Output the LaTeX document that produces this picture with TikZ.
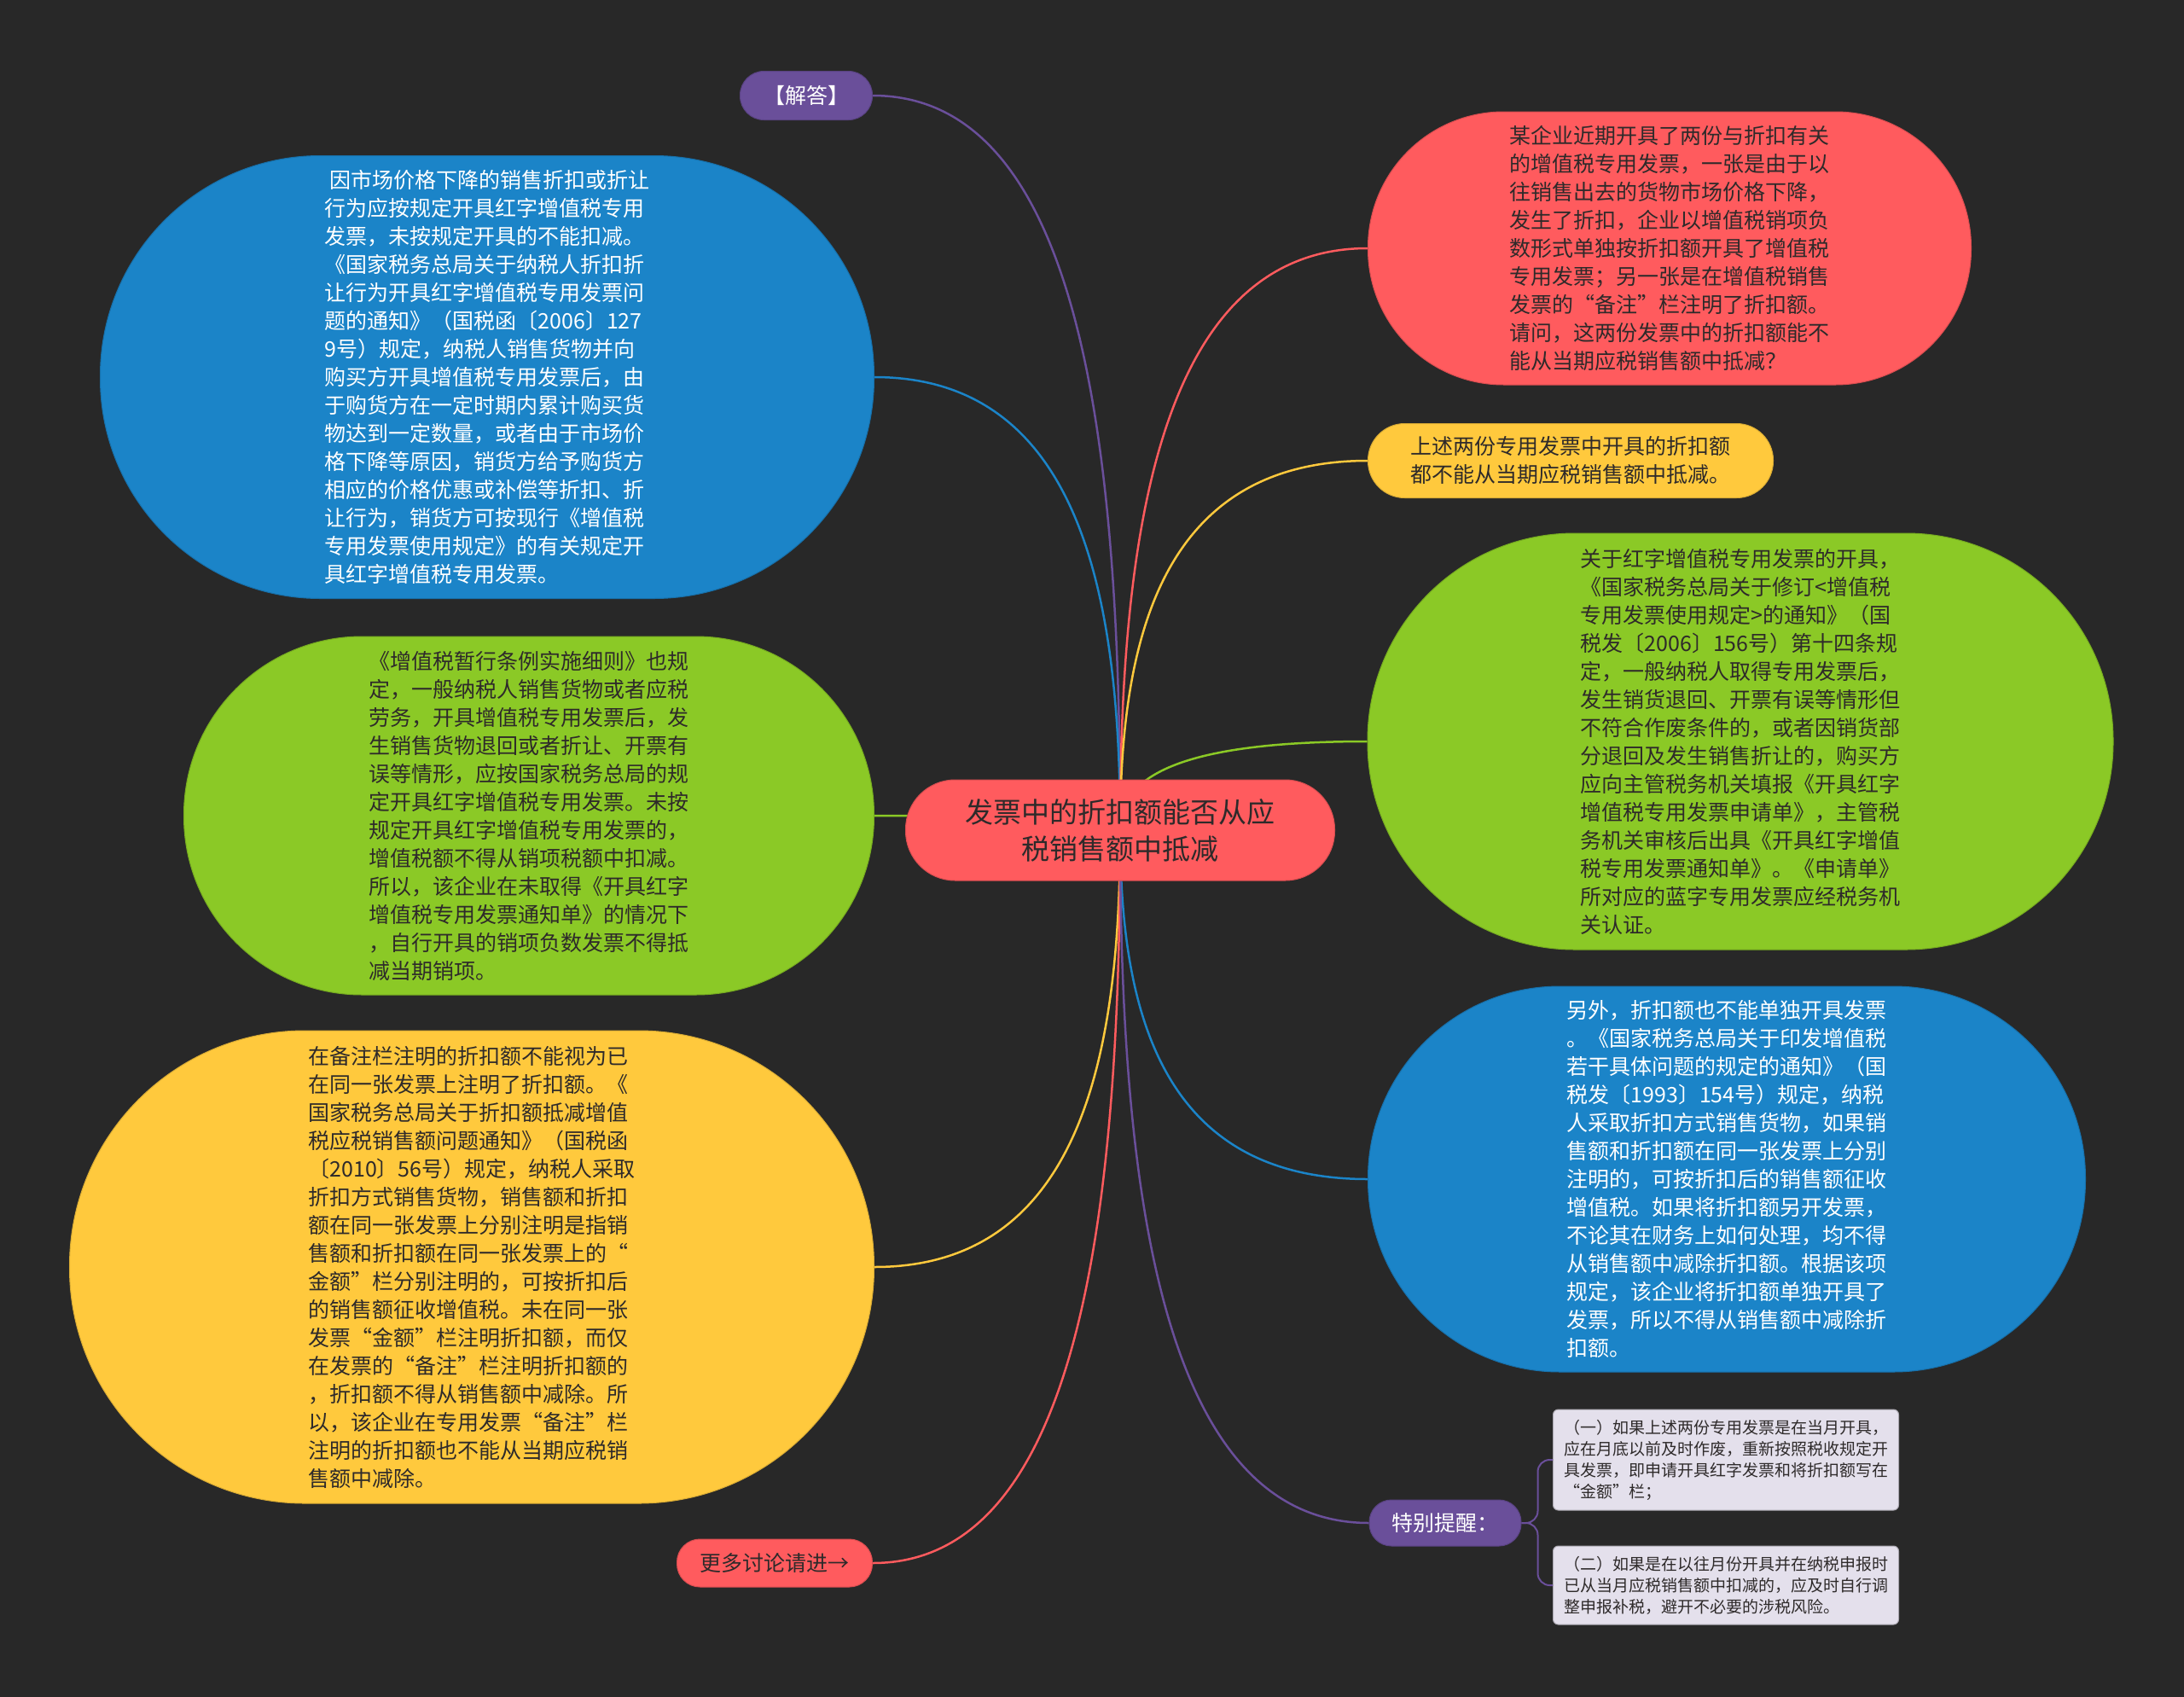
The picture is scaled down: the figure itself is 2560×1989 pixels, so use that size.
\documentclass[tikz,border=0pt]{standalone}
\usepackage{fontspec}
\newfontfamily\cjk{Noto Sans CJK SC}
\usetikzlibrary{backgrounds}
\definecolor{bgc}{HTML}{282828}
\definecolor{mred}{HTML}{FF5B5E}
\definecolor{mblue}{HTML}{1B84C8}
\definecolor{mgreen}{HTML}{8BC926}
\definecolor{myellow}{HTML}{FFC93D}
\definecolor{mpurple}{HTML}{6A4F9A}
\definecolor{mlav}{HTML}{E4E0EC}
\definecolor{ink}{HTML}{2E2A2A}

\begin{document}
\begin{tikzpicture}[x=1pt,y=-1pt,font=\cjk,
bubble/.style={fill=#1,draw=#1!85!black,line width=1pt,align=left,inner sep=0pt,text=ink,font=\cjk\fontsize{25}{33}\selectfont},
note/.style={fill=mlav,draw=mlav!75!black,line width=1pt,rounded corners=6pt,align=left,inner sep=0pt,text=ink,
  minimum width=405pt,font=\cjk\fontsize{19}{25}\selectfont},
branch/.style={line width=2.5pt}]
% central topic
\node[bubble=mred,minimum width=503pt,minimum height=118pt,rounded corners=58pt,align=center,
  font=\cjk\fontsize{33}{43}\selectfont] (ctr) at (1313,973) {发票中的折扣额能否从应\\税销售额中抵减};
% left side
\node[bubble=mpurple,text=white,minimum width=155pt,minimum height=57pt,rounded corners=28pt] (jieda) at (945,112) {【解答】};
\node[bubble=mblue,text=white,minimum width=907pt,minimum height=519pt,rounded corners=258pt] (lblue) at (571,442)
{\hspace*{6pt}因市场价格下降的销售折扣或折让\\行为应按规定开具红字增值税专用\\发票，未按规定开具的不能扣减。\\《国家税务总局关于纳税人折扣折\\让行为开具红字增值税专用发票问\\题的通知》（国税函〔2006〕127\\9号）规定，纳税人销售货物并向\\购买方开具增值税专用发票后，由\\于购货方在一定时期内累计购买货\\物达到一定数量，或者由于市场价\\格下降等原因，销货方给予购货方\\相应的价格优惠或补偿等折扣、折\\让行为，销货方可按现行《增值税\\专用发票使用规定》的有关规定开\\具红字增值税专用发票。};
\node[bubble=mgreen,minimum width=809pt,minimum height=420pt,rounded corners=209pt] (lgreen) at (620,956)
{《增值税暂行条例实施细则》也规\\定，一般纳税人销售货物或者应税\\劳务，开具增值税专用发票后，发\\生销售货物退回或者折让、开票有\\误等情形，应按国家税务总局的规\\定开具红字增值税专用发票。未按\\规定开具红字增值税专用发票的，\\增值税额不得从销项税额中扣减。\\所以，该企业在未取得《开具红字\\增值税专用发票通知单》的情况下\\，自行开具的销项负数发票不得抵\\减当期销项。};
\node[bubble=myellow,minimum width=943pt,minimum height=554pt,rounded corners=276pt] (lyellow) at (553,1485)
{在备注栏注明的折扣额不能视为已\\在同一张发票上注明了折扣额。《\\国家税务总局关于折扣额抵减增值\\税应税销售额问题通知》（国税函\\〔2010〕56号）规定，纳税人采取\\折扣方式销售货物，销售额和折扣\\额在同一张发票上分别注明是指销\\售额和折扣额在同一张发票上的“\\金额”栏分别注明的，可按折扣后\\的销售额征收增值税。未在同一张\\发票“金额”栏注明折扣额，而仅\\在发票的“备注”栏注明折扣额的\\，折扣额不得从销售额中减除。所\\以，该企业在专用发票“备注”栏\\注明的折扣额也不能从当期应税销\\售额中减除。};
\node[bubble=mred,minimum width=229pt,minimum height=56pt,rounded corners=27pt] (more) at (908,1832) {更多讨论请进→};
% right side
\node[bubble=mred,minimum width=707pt,minimum height=320pt,rounded corners=159pt] (rred) at (1957,291)
{某企业近期开具了两份与折扣有关\\的增值税专用发票，一张是由于以\\往销售出去的货物市场价格下降，\\发生了折扣，企业以增值税销项负\\数形式单独按折扣额开具了增值税\\专用发票；另一张是在增值税销售\\发票的“备注”栏注明了折扣额。\\请问，这两份发票中的折扣额能不\\能从当期应税销售额中抵减？};
\node[bubble=myellow,minimum width=475pt,minimum height=87pt,rounded corners=43pt] (ryellow) at (1841,540)
{上述两份专用发票中开具的折扣额\\都不能从当期应税销售额中抵减。};
\node[bubble=mgreen,minimum width=874pt,minimum height=488pt,rounded corners=243pt] (rgreen) at (2040,869)
{关于红字增值税专用发票的开具，\\《国家税务总局关于修订<增值税\\专用发票使用规定>的通知》（国\\税发〔2006〕156号）第十四条规\\定，一般纳税人取得专用发票后，\\发生销货退回、开票有误等情形但\\不符合作废条件的，或者因销货部\\分退回及发生销售折让的，购买方\\应向主管税务机关填报《开具红字\\增值税专用发票申请单》，主管税\\务机关审核后出具《开具红字增值\\税专用发票通知单》。《申请单》\\所对应的蓝字专用发票应经税务机\\关认证。};
\node[bubble=mblue,text=white,minimum width=841pt,minimum height=452pt,rounded corners=225pt] (rblue) at (2024,1382)
{另外，折扣额也不能单独开具发票\\。《国家税务总局关于印发增值税\\若干具体问题的规定的通知》（国\\税发〔1993〕154号）规定，纳税\\人采取折扣方式销售货物，如果销\\售额和折扣额在同一张发票上分别\\注明的，可按折扣后的销售额征收\\增值税。如果将折扣额另开发票，\\不论其在财务上如何处理，均不得\\从销售额中减除折扣额。根据该项\\规定，该企业将折扣额单独开具了\\发票，所以不得从销售额中减除折\\扣额。};
\node[bubble=mpurple,text=white,minimum width=178pt,minimum height=54pt,rounded corners=26pt] (remind) at (1694,1785) {特别提醒：};
\node[note,minimum height=118pt] (note1) at (2023,1711)
{（一）如果上述两份专用发票是在当月开具，\\应在月底以前及时作废，重新按照税收规定开\\具发票，即申请开具红字发票和将折扣额写在\\“金额”栏；};
\node[note,minimum height=92pt] (note2) at (2023,1858)
{（二）如果是在以往月份开具并在纳税申报时\\已从当月应税销售额中扣减的，应及时自行调\\整申报补税，避开不必要的涉税风险。};
\begin{pgfonlayer}{background}
\fill[bgc] (0,0) rectangle (2560,1989);
\draw[branch,mpurple] (ctr.center) .. controls +(0,-430) and +(250,0) .. (jieda.east);
\draw[branch,mblue] (ctr.center) .. controls +(0,-265) and +(245,0) .. (lblue.east);
\draw[branch,mgreen] (ctr.center) .. controls +(0,-10) and +(245,0) .. (lgreen.east);
\draw[branch,myellow] (ctr.center) .. controls +(0,256) and +(245,0) .. (lyellow.east);
\draw[branch,mred] (ctr.center) .. controls +(0,430) and +(247,0) .. (more.east);
\draw[branch,mred] (ctr.center) .. controls +(0,-341) and +(-246,0) .. (rred.west);
\draw[branch,myellow] (ctr.center) .. controls +(0,-216) and +(-246,0) .. (ryellow.west);
\draw[branch,mgreen] (ctr.center) .. controls +(0,-52) and +(-246,0) .. (rgreen.west);
\draw[branch,mblue] (ctr.center) .. controls +(0,205) and +(-246,0) .. (rblue.west);
\draw[branch,mpurple] (ctr.center) .. controls +(0,406) and +(-248,0) .. (remind.west);
\end{pgfonlayer}
\draw[mpurple,line width=2pt,rounded corners=14pt] (remind.east) -- ++(19,0) |- (note1.west);
\draw[mpurple,line width=2pt,rounded corners=14pt] (remind.east) -- ++(19,0) |- (note2.west);
\end{tikzpicture}
\end{document}
